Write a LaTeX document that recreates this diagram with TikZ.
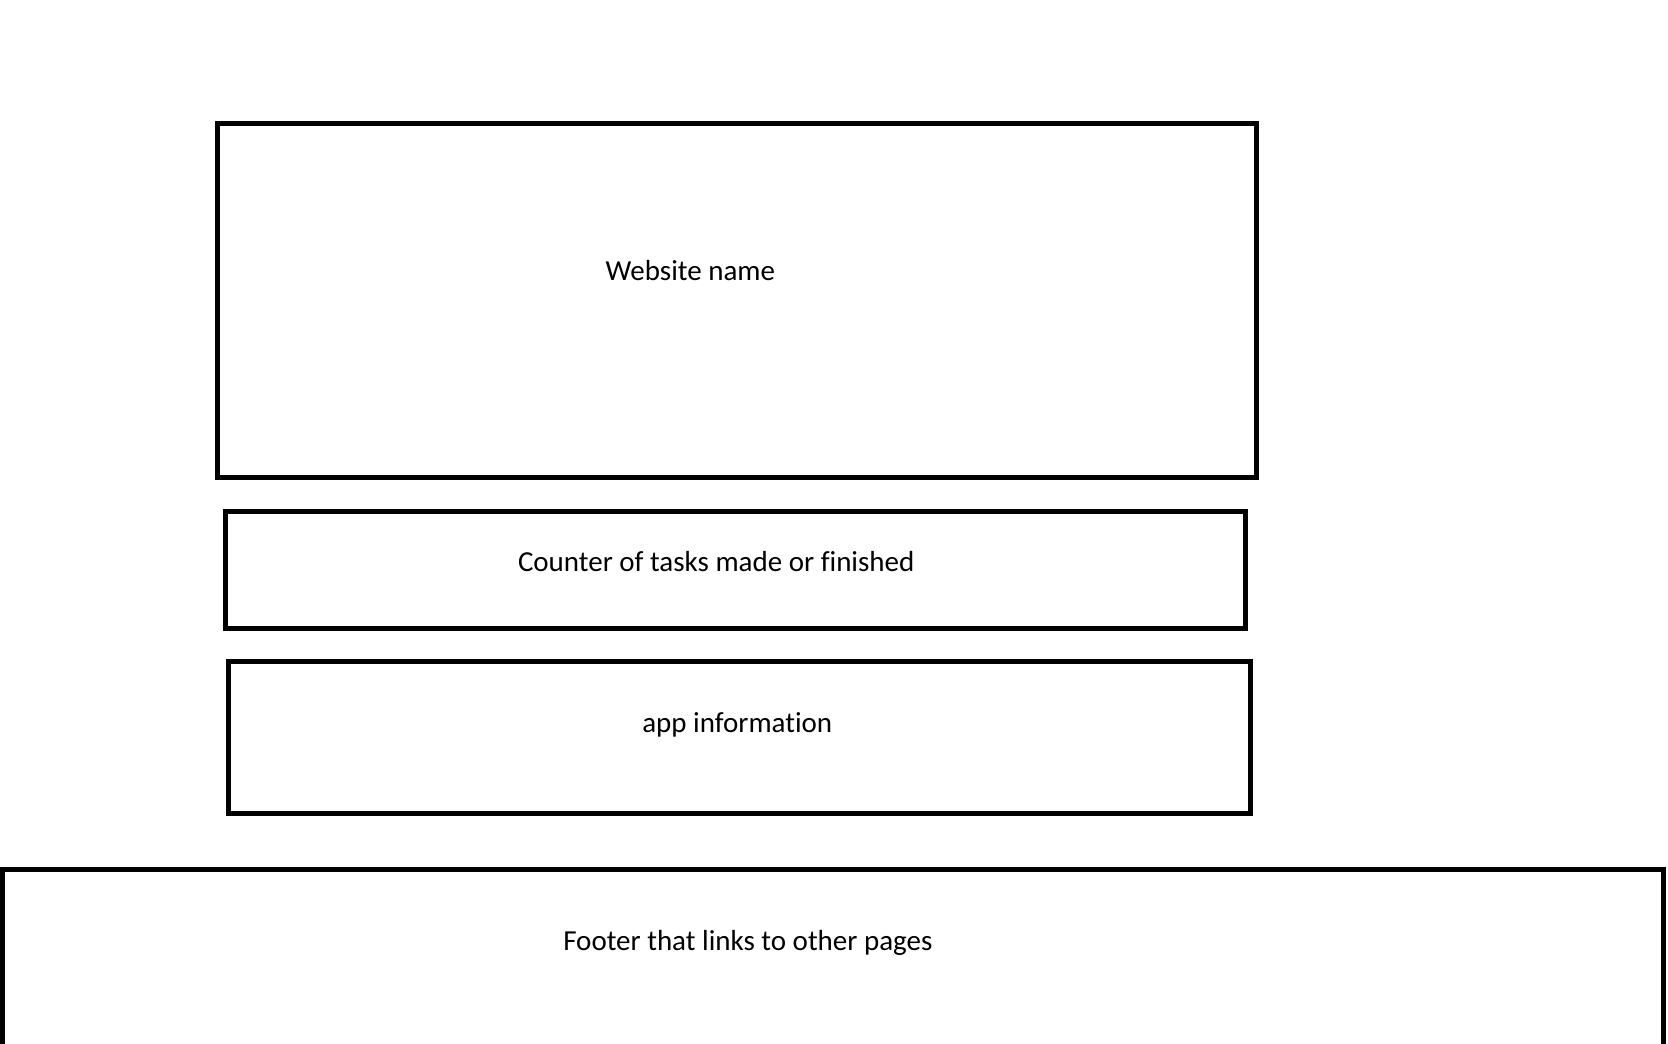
\documentclass[tikz,border=0pt]{standalone}
\usepackage{fontspec}
\setmainfont{Carlito}[Ligatures={NoCommon}]
\begin{document}
\begin{tikzpicture}[x=1pt,y=-1pt,
  wbox/.style={draw=black, line width=5pt, inner sep=0pt, outer sep=0pt, rectangle},
  lbl/.style={inner sep=0pt, outer sep=0pt, anchor=base west, font=\fontsize{29}{35}\selectfont}]
\clip (0,0) rectangle (1668,1044);
\fill[white] (0,0) rectangle (1668,1044);
\node[wbox, minimum width=1039pt, minimum height=354pt] (header) at (737,300.5) {};
\node[wbox, minimum width=1020pt, minimum height=116.5pt] (counter) at (735,569.75) {};
\node[wbox, minimum width=1021.5pt, minimum height=152pt] (info) at (739.25,737.5) {};
\node[wbox, minimum width=1661pt, minimum height=300pt, anchor=north west] (footer) at (2.5,869.5) {};
\node[lbl] (t1) at (605.7,280.7) {Website name};
\node[lbl] (t2) at (518,571.7) {Counter of tasks made or finished};
\node[lbl] (t3) at (642.3,732.3) {app information};
\node[lbl] (t4) at (563.3,950.7) {Footer that links to other pages};
\end{tikzpicture}
\end{document}
